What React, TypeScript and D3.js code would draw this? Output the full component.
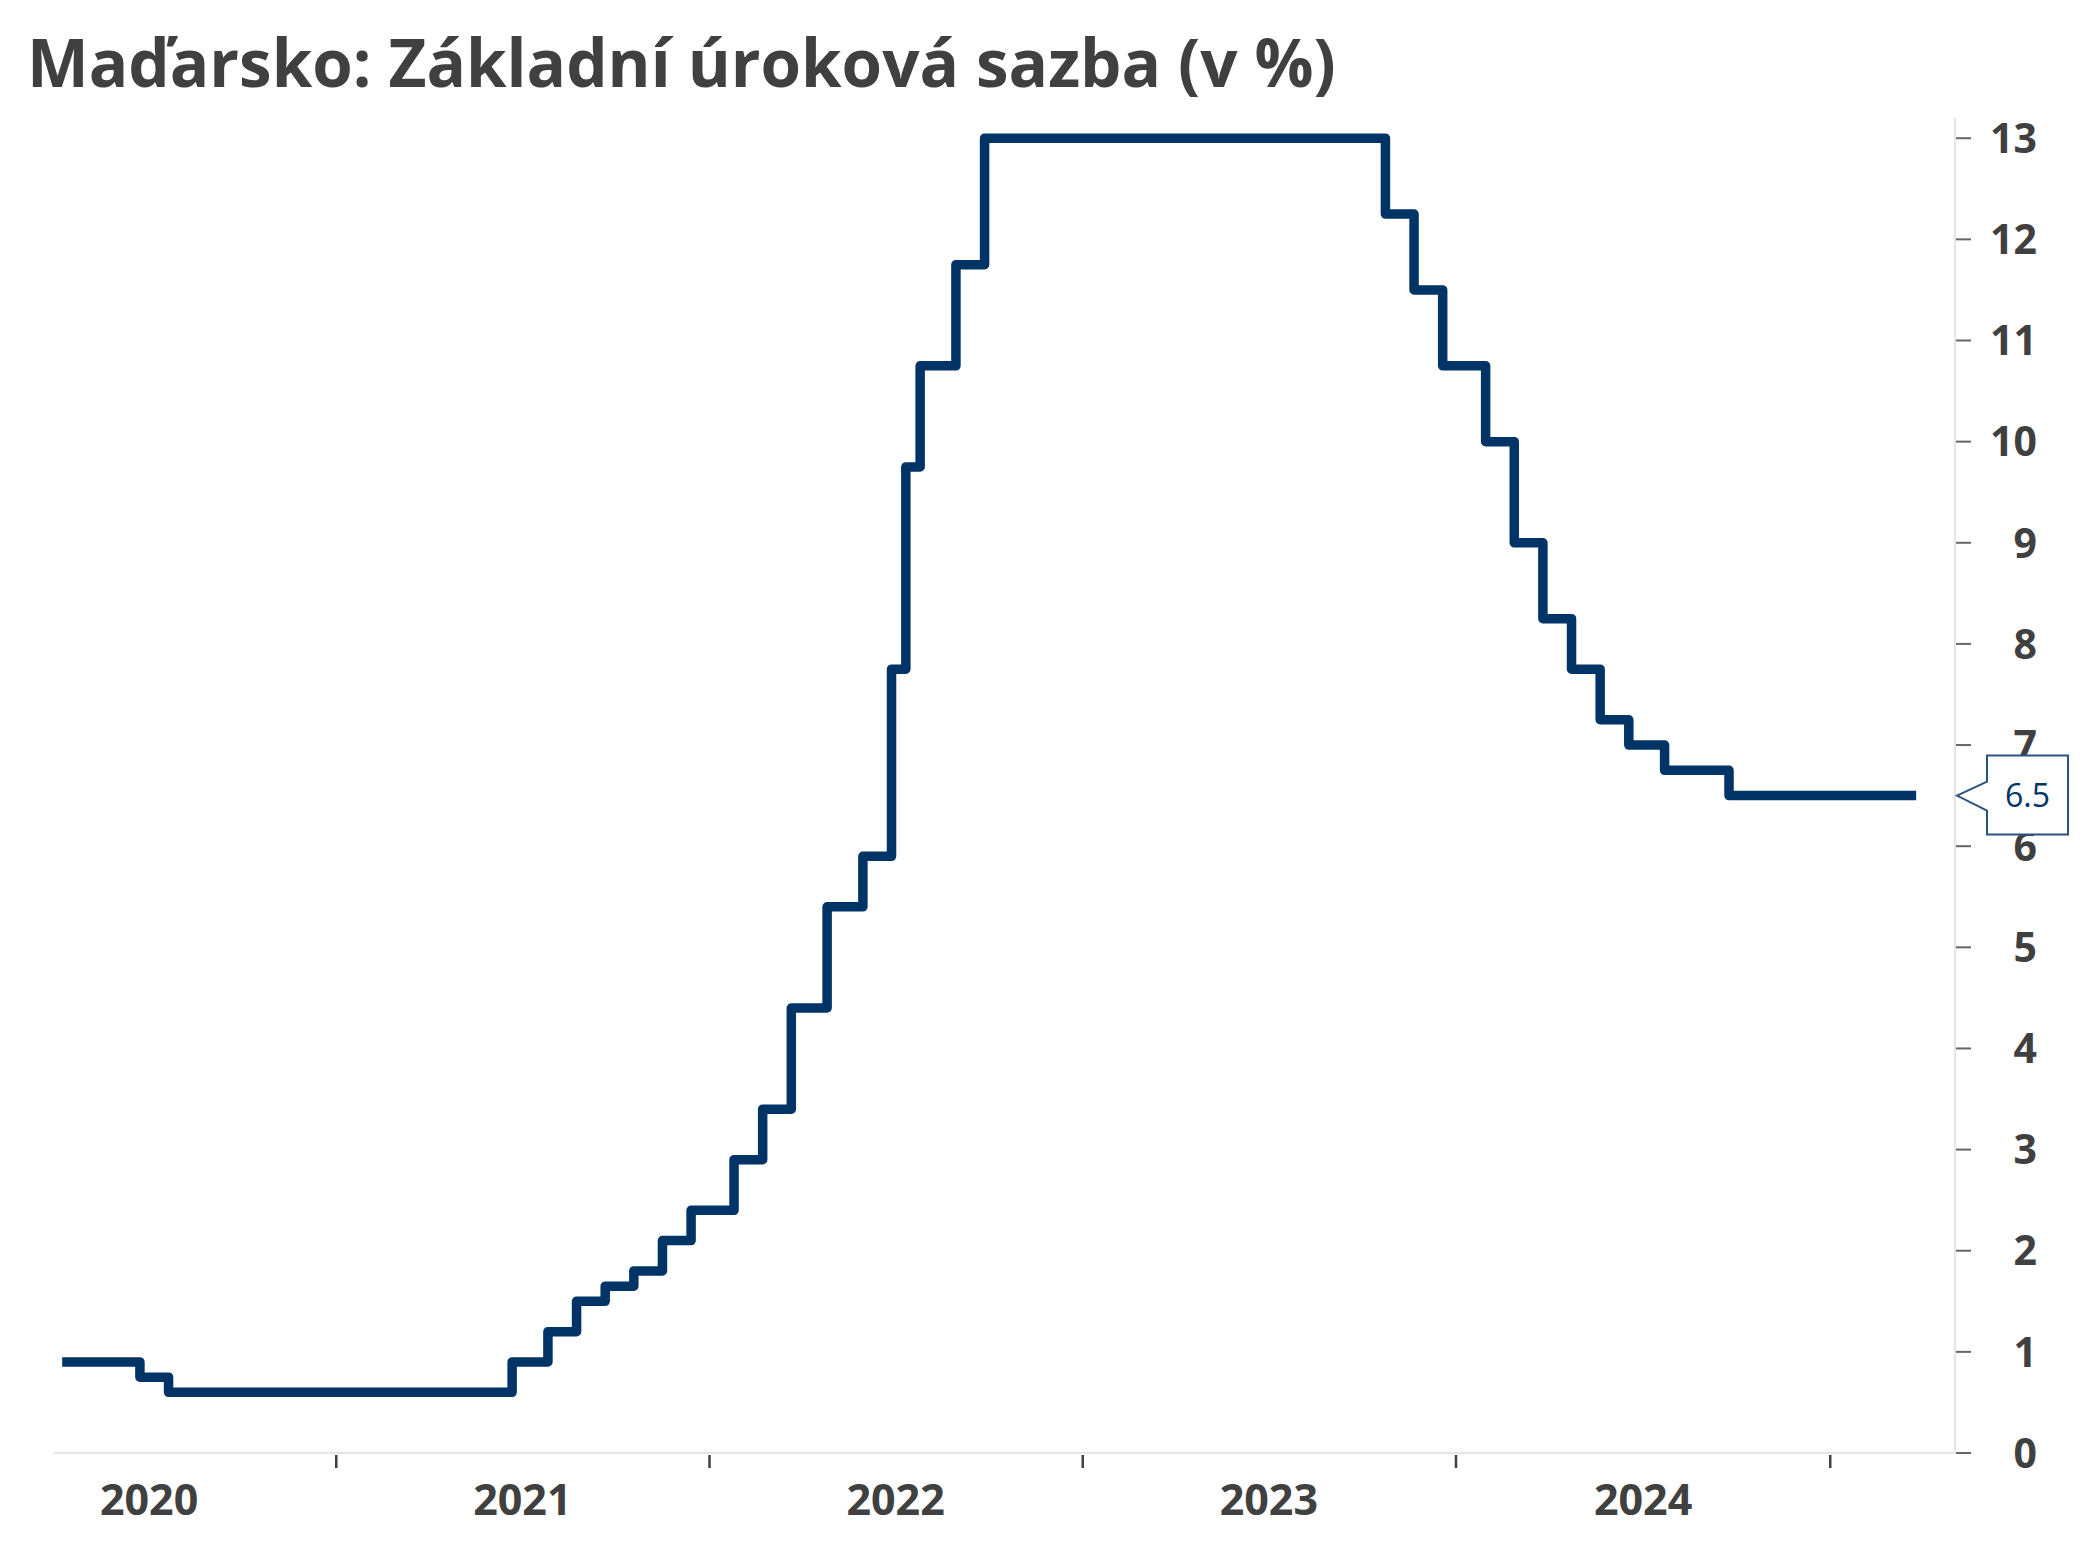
import { curveStepAfter, line, scaleLinear, scaleTime } from "d3";
import { useMemo } from "react";

const chartTitle = "Maďarsko: Základní úroková sazba (v %)";

const rateDates = [
  "2020-04-08", "2020-06-23", "2020-07-21", "2021-06-22", "2021-07-27",
  "2021-08-24", "2021-09-21", "2021-10-19", "2021-11-16", "2021-12-14",
  "2022-01-25", "2022-02-22", "2022-03-22", "2022-04-26", "2022-05-31",
  "2022-06-28", "2022-07-12", "2022-07-26", "2022-08-30", "2022-09-27",
  "2023-10-24", "2023-11-21", "2023-12-19", "2024-01-30", "2024-02-27",
  "2024-03-26", "2024-04-23", "2024-05-21", "2024-06-18", "2024-07-23",
  "2024-09-24", "2025-03-26"
];
const rateValues = [
  0.9, 0.75, 0.6, 0.9, 1.2,
  1.5, 1.65, 1.8, 2.1, 2.4,
  2.9, 3.4, 4.4, 5.4, 5.9,
  7.75, 9.75, 10.75, 11.75, 13,
  12.25, 11.5, 10.75, 10, 9,
  8.25, 7.75, 7.25, 7, 6.75,
  6.5, 6.5
];

const yTicks = [0, 1, 2, 3, 4, 5, 6, 7, 8, 9, 10, 11, 12, 13];
const yearTicks = ["2021-01-01", "2022-01-01", "2023-01-01", "2024-01-01", "2025-01-01"];
const yearLabels = ["2020", "2021", "2022", "2023", "2024"];
const xDomain = ["2020-03-30", "2025-05-03"];
const yDomain = [0, 13.2];

const width = 2093;
const height = 1568;
const plotLeft = 53;
const plotRight = 1955;
const plotTop = 118;
const plotBottom = 1453;
const font = "'Open Sans', 'Noto Sans', sans-serif";
const textColor = "#404040";
const lineColor = "#003366";
const axisColor = "#e6e6e6";

function App() {
  const series = useMemo(
    () => rateDates.map((d, i) => ({ time: new Date(d), value: rateValues[i] })),
    []
  );

  const xScale = useMemo(
    () => scaleTime().domain(xDomain.map((d) => new Date(d))).range([plotLeft, plotRight]),
    []
  );
  const yScale = useMemo(
    () => scaleLinear().domain(yDomain).range([plotBottom, plotTop]),
    []
  );

  const path = useMemo(() => {
    const builder = line<{ time: Date; value: number }>()
      .x((d) => xScale(d.time))
      .y((d) => yScale(d.value))
      .curve(curveStepAfter);
    return builder(series) ?? "";
  }, [series, xScale, yScale]);

  // callout box pointing at the last value
  const last = series[series.length - 1];
  const tipX = plotRight + 2;
  const tipY = yScale(last.value);
  const boxLeft = tipX + 30;
  const boxRight = tipX + 111;
  const callout = [
    `M${tipX},${tipY}`,
    `L${boxLeft},${tipY - 14}`,
    `L${boxLeft},${tipY - 40}`,
    `L${boxRight},${tipY - 40}`,
    `L${boxRight},${tipY + 39}`,
    `L${boxLeft},${tipY + 39}`,
    `L${boxLeft},${tipY + 15}`,
    "Z"
  ].join(" ");

  return (
    <svg
      width={width}
      height={height}
      style={{ position: "absolute", left: 0, top: 0, background: "#fff" }}
      fontFamily={font}
    >
      <text x={27} y={87} fontSize={65.5} fontWeight={700} fill={textColor}>
        {chartTitle}
      </text>

      <line x1={plotLeft} x2={plotRight} y1={plotBottom} y2={plotBottom} stroke={axisColor} strokeWidth={2} />
      <line x1={plotRight} x2={plotRight} y1={plotTop} y2={plotBottom} stroke={axisColor} strokeWidth={2} />

      {yTicks.map((t) => (
        <g key={t}>
          <line
            x1={plotRight + 1}
            x2={plotRight + 16}
            y1={yScale(t)}
            y2={yScale(t)}
            stroke="#666"
            strokeWidth={2}
          />
          <text
            x={2037}
            y={yScale(t)}
            dy="0.36em"
            textAnchor="end"
            fontSize={41}
            fontWeight={700}
            fill={textColor}
          >
            {t}
          </text>
        </g>
      ))}

      {yearTicks.map((d) => (
        <line
          key={d}
          x1={xScale(new Date(d))}
          x2={xScale(new Date(d))}
          y1={plotBottom + 2}
          y2={plotBottom + 15}
          stroke={textColor}
          strokeWidth={2.5}
        />
      ))}
      {yearLabels.map((y) => (
        <text
          key={y}
          x={xScale(new Date(`${y}-07-02`))}
          y={1515}
          textAnchor="middle"
          fontSize={43}
          fontWeight={700}
          fill={textColor}
        >
          {y}
        </text>
      ))}

      <path
        d={path}
        fill="none"
        stroke={lineColor}
        strokeWidth={9.5}
        strokeLinejoin="round"
      />

      <path d={callout} fill="#fff" stroke="#2b5283" strokeWidth={2} />
      <text
        x={(boxLeft + boxRight) / 2}
        y={tipY}
        dy="0.36em"
        textAnchor="middle"
        fontSize={32}
        fill={lineColor}
      >
        {last.value}
      </text>
    </svg>
  );
}

export default App;
